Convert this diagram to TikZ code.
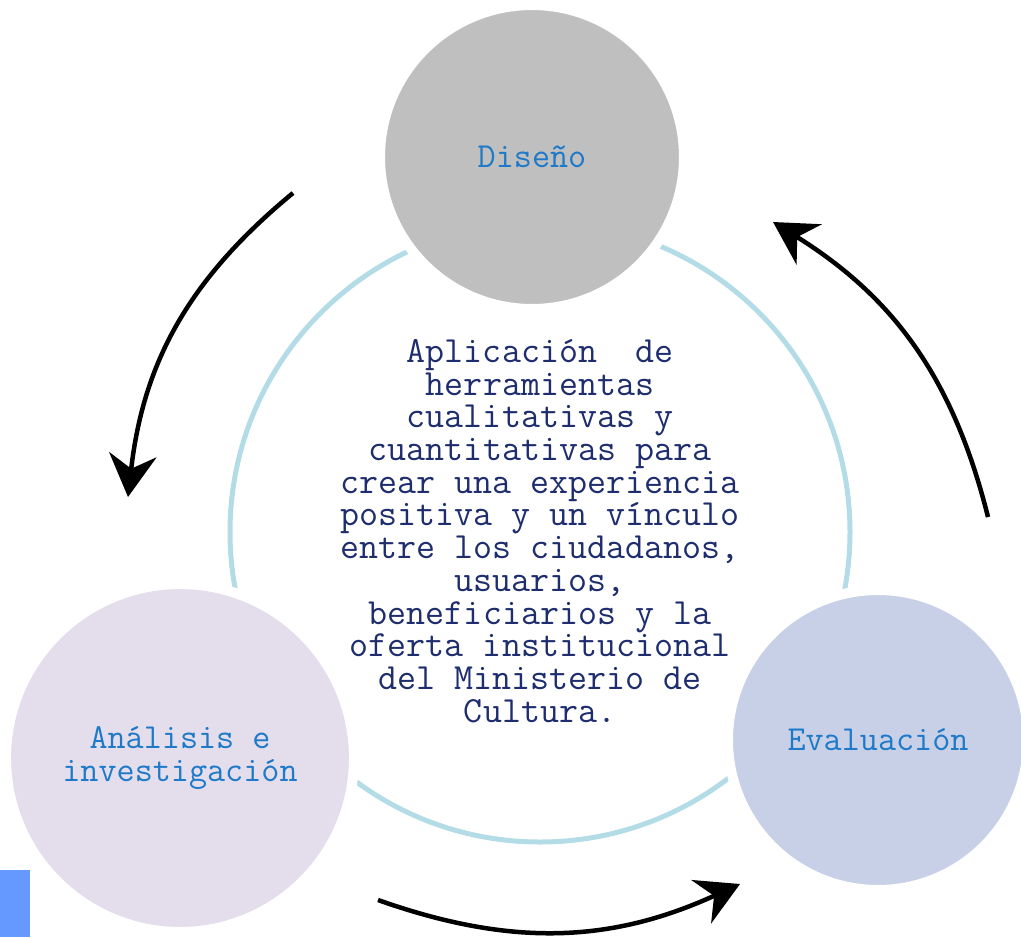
\documentclass[tikz,border=0pt]{standalone}
\usetikzlibrary{arrows.meta}
\definecolor{ringblue}{RGB}{180,220,230}
\definecolor{disgray}{RGB}{191,191,191}
\definecolor{anafill}{RGB}{228,222,236}
\definecolor{evafill}{RGB}{200,208,232}
\definecolor{labblue}{RGB}{30,122,200}
\definecolor{navy}{RGB}{30,45,110}
\definecolor{tabblue}{RGB}{102,153,255}
\begin{document}
\begin{tikzpicture}[x=0.02cm, y=-0.02cm,
    phase/.style={circle, draw=white, line width=0.2cm, inner sep=0pt, align=center,
        text=labblue, font=\ttfamily\fontsize{20}{18.5}\selectfont},
    cyc/.style={line width=0.09cm, -{Stealth[length=0.85cm, width=0.95cm, inset=0.28cm]}, bend right=22}]
    \useasboundingbox (0,0) rectangle (1021,937);

    % ring behind the three phases
    \draw[ringblue, line width=0.1cm] (540,532) circle[radius=310];

    \node[phase, fill=disgray, minimum size=6.08cm] (dis) at (532,157) {Diseño};
    \node[phase, fill=anafill, minimum size=6.96cm] (ana) at (180,758) {Análisis e\\investigación};
    \node[phase, fill=evafill, minimum size=6.0cm] (eva) at (878,740) {Evaluación};

    \node[align=center, text=navy, font=\ttfamily\fontsize{21}{18.6}\selectfont] (txt) at (540,531)
        {Aplicación\ \ de\\herramientas\\cualitativas y\\cuantitativas para\\crear una experiencia\\
         positiva y un vínculo\\entre los ciudadanos,\\usuarios,\\beneficiarios y la\\
         oferta institucional\\del Ministerio de\\Cultura.};

    \fill[tabblue] (0,870) rectangle (30,937);

    % arrows of the cycle
    \coordinate (a1) at (293,193);
    \coordinate (b1) at (128,497);
    \coordinate (a2) at (378,900);
    \coordinate (b2) at (740,884);
    \coordinate (a3) at (988,517);
    \coordinate (b3) at (773,222);
    \draw[cyc] (a1) to (b1);
    \draw[cyc] (a2) to (b2);
    \draw[cyc] (a3) to (b3);
\end{tikzpicture}
\end{document}
